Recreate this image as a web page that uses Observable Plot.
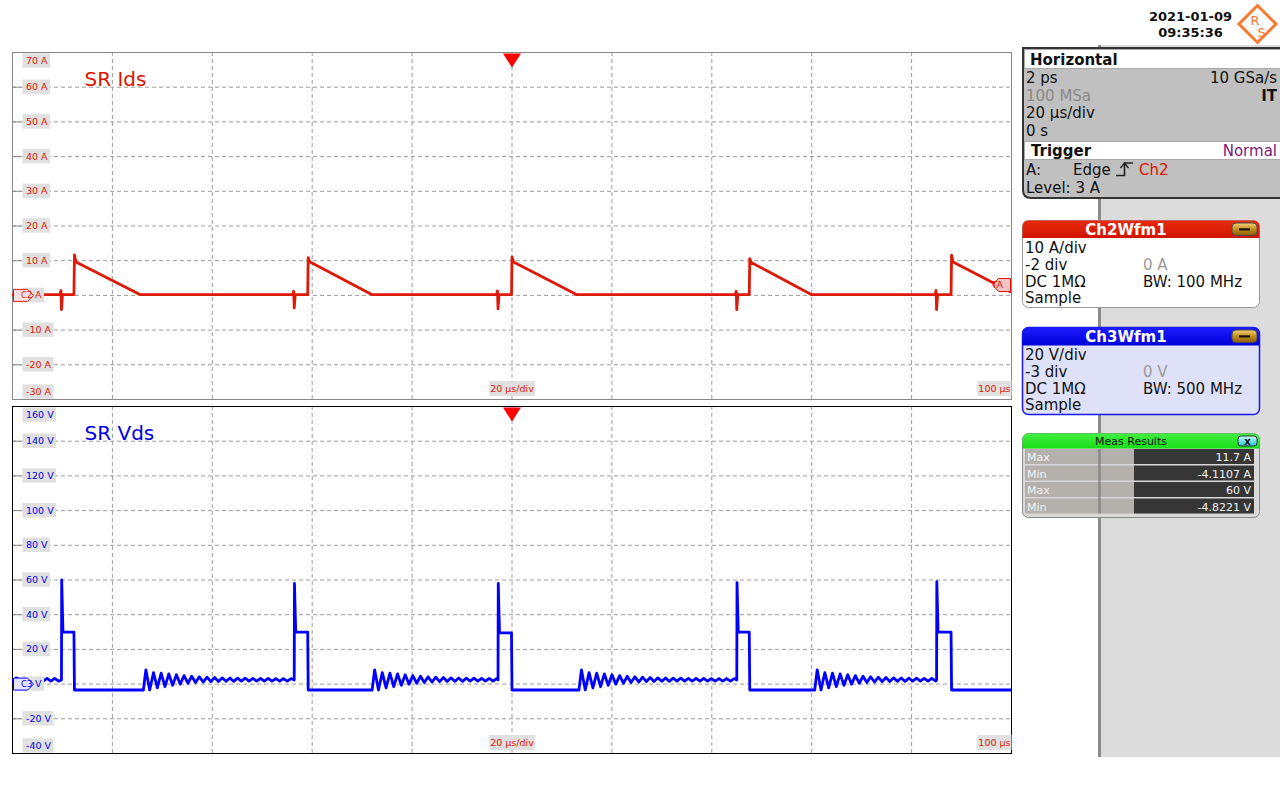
<!DOCTYPE html>
<html><head><meta charset="utf-8">
<script src="https://cdn.jsdelivr.net/npm/d3@7"></script>
<script src="https://cdn.jsdelivr.net/npm/@observablehq/plot@0.6"></script>
<style>
html,body{margin:0;padding:0;background:#fff;}
#root{position:relative;width:1280px;height:800px;overflow:hidden;font-family:"DejaVu Sans";}
#root svg{position:absolute;left:0;}
</style></head><body><div id="root">
<svg id="side" width="1280" height="800" style="top:0" font-family="DejaVu Sans">
<defs>
 <linearGradient id="gold" x1="0" y1="0" x2="0" y2="1"><stop offset="0" stop-color="#f3d27a"/><stop offset="0.5" stop-color="#c48d1c"/><stop offset="1" stop-color="#8a5c0a"/></linearGradient>
 <linearGradient id="cyan" x1="0" y1="0" x2="0" y2="1"><stop offset="0" stop-color="#c8ffff"/><stop offset="1" stop-color="#1cc4d8"/></linearGradient>
 <linearGradient id="redh" x1="0" y1="0" x2="0" y2="1"><stop offset="0" stop-color="#e82a0c"/><stop offset="1" stop-color="#d01400"/></linearGradient>
 <linearGradient id="blueh" x1="0" y1="0" x2="0" y2="1"><stop offset="0" stop-color="#1c1cff"/><stop offset="1" stop-color="#0000d8"/></linearGradient>
 <linearGradient id="greenh" x1="0" y1="0" x2="0" y2="1"><stop offset="0" stop-color="#40f040"/><stop offset="1" stop-color="#18dc18"/></linearGradient>
</defs>
<rect x="1100" y="45" width="180" height="712" fill="#dcdcdc"/>
<rect x="1098" y="45" width="3" height="712" fill="#8c8c8c"/>
<text x="1190.5" y="21" text-anchor="middle" font-size="13" font-weight="bold" fill="#111">2021-01-09</text>
<text x="1190.5" y="37" text-anchor="middle" font-size="13" font-weight="bold" fill="#111">09:35:36</text>
<g transform="translate(1257.5,24)">
 <path d="M0,-18.5 L18.5,0 L0,18.5 L-18.5,0Z" fill="#fff" stroke="#f57a30" stroke-width="3"/>
 <text x="-2.5" y="1" font-size="13" fill="#f57a30" text-anchor="middle">R</text>
 <text x="4" y="13" font-size="13" fill="#f57a30" text-anchor="middle">S</text>
</g>
<g font-size="15" fill="#111">
 <path d="M1284,48 H1023 V190 Q1023,198 1031,198 H1284" fill="#c0c0c0" stroke="#333" stroke-width="2"/>
 <rect x="1024.5" y="49.5" width="260" height="19" fill="#fff" stroke="#aaa"/>
 <text x="1030" y="65" font-weight="bold">Horizontal</text>
 <text x="1026" y="83">2 ps</text>
 <text x="1277" y="83" text-anchor="end">10 GSa/s</text>
 <text x="1026" y="100.5" fill="#8a8a8a">100 MSa</text>
 <text x="1277" y="100.5" text-anchor="end" font-weight="bold">IT</text>
 <text x="1026" y="118">20 µs/div</text>
 <text x="1026" y="136">0 s</text>
 <rect x="1024.5" y="141.5" width="260" height="18" fill="#fff" stroke="#aaa"/>
 <text x="1031" y="156" font-weight="bold">Trigger</text>
 <text x="1277" y="156" text-anchor="end" fill="#7a1a7a">Normal</text>
 <text x="1026" y="175">A:</text>
 <text x="1073" y="175">Edge</text>
 <path d="M1116,175.5 H1124.5 V163 H1133" fill="none" stroke="#222" stroke-width="1.6"/>
 <path d="M1120.5,168 L1124.5,163 L1128.5,168" fill="none" stroke="#222" stroke-width="1.4"/>
 <text x="1139" y="175" fill="#e01400">Ch2</text>
 <text x="1026" y="192.5">Level: 3 A</text>
</g>
<g font-size="15" fill="#111">
 <rect x="1022.5" y="220.5" width="237" height="87" rx="6" fill="#fff" stroke="#9a9a9a"/>
 <path d="M1022.5,238 V226.5 Q1022.5,220.5 1028.5,220.5 H1253.5 Q1259.5,220.5 1259.5,226.5 V238 Z" fill="url(#redh)"/>
 <text x="1126" y="234.5" text-anchor="middle" font-weight="bold" fill="#fff">Ch2Wfm1</text>
 <rect x="1232" y="223" width="25" height="12.5" rx="4" fill="url(#gold)" stroke="#4a4a4a"/>
 <rect x="1239" y="228.3" width="11" height="2.2" fill="#111"/>
 <text x="1025" y="252.5">10 A/div</text>
 <text x="1025" y="269.5">-2 div</text><text x="1143" y="269.5" fill="#9a9a9a">0 A</text>
 <text x="1025" y="286.5">DC 1MΩ</text><text x="1143" y="286.5">BW: 100 MHz</text>
 <text x="1025" y="303">Sample</text>
</g>
<g font-size="15" fill="#111">
 <rect x="1022.5" y="327.5" width="237" height="87" rx="6" fill="#dfe1f8" stroke="#1818e8" stroke-width="1.5"/>
 <path d="M1022.5,345.5 V333.5 Q1022.5,327.5 1028.5,327.5 H1253.5 Q1259.5,327.5 1259.5,333.5 V345.5 Z" fill="url(#blueh)"/>
 <text x="1126" y="341.5" text-anchor="middle" font-weight="bold" fill="#fff">Ch3Wfm1</text>
 <rect x="1232" y="330" width="25" height="12.5" rx="4" fill="url(#gold)" stroke="#4a4a4a"/>
 <rect x="1239" y="335.3" width="11" height="2.2" fill="#111"/>
 <text x="1025" y="359.5">20 V/div</text>
 <text x="1025" y="376.5">-3 div</text><text x="1143" y="376.5" fill="#9a9a9a">0 V</text>
 <text x="1025" y="393.5">DC 1MΩ</text><text x="1143" y="393.5">BW: 500 MHz</text>
 <text x="1025" y="410">Sample</text>
</g>
<g font-size="11">
 <rect x="1022.5" y="433.5" width="237" height="84" rx="6" fill="#d9d9d9" stroke="#8a8a8a"/>
 <path d="M1022.5,448.5 V439.5 Q1022.5,433.5 1028.5,433.5 H1253.5 Q1259.5,433.5 1259.5,439.5 V448.5 Z" fill="url(#greenh)"/>
 <text x="1131" y="445" text-anchor="middle" fill="#111">Meas Results</text>
 <rect x="1238" y="436" width="19" height="10" rx="3" fill="url(#cyan)" stroke="#333"/>
 <text x="1247.5" y="444.5" font-size="10" font-weight="bold" text-anchor="middle" fill="#111">x</text>
 <rect x="1025" y="449" width="109" height="15" fill="#b4b0ac"/><rect x="1134" y="449" width="120" height="15" fill="#363636"/>
 <rect x="1025" y="465.5" width="109" height="15" fill="#b4b0ac"/><rect x="1134" y="465.5" width="120" height="15" fill="#363636"/>
 <rect x="1025" y="482" width="109" height="15" fill="#b4b0ac"/><rect x="1134" y="482" width="120" height="15" fill="#363636"/>
 <rect x="1025" y="498.5" width="109" height="15" fill="#b4b0ac"/><rect x="1134" y="498.5" width="120" height="15" fill="#363636"/>
 <rect x="1098" y="449" width="3" height="64.5" fill="#6e6e6e" opacity="0.5"/>
 <g fill="#f2f2f2">
  <text x="1027" y="461">Max</text><text x="1251" y="461" text-anchor="end">11.7 A</text>
  <text x="1027" y="477.5">Min</text><text x="1251" y="477.5" text-anchor="end">-4.1107 A</text>
  <text x="1027" y="494">Max</text><text x="1251" y="494" text-anchor="end">60 V</text>
  <text x="1027" y="510.5">Min</text><text x="1251" y="510.5" text-anchor="end">-4.8221 V</text>
 </g>
</g>
</svg>
</div>
<script>
const timeTicks = [-80, -60, -40, -20, 0, 20, 40, 60, 80];          // µs gridlines
const idsTicks = [70, 60, 50, 40, 30, 20, 10, 0, -10, -20, -30];    // A
const vdsTicks = [160, 140, 120, 100, 80, 60, 40, 20, 0, -20, -40]; // V
const timebaseLabel = ["20 µs/div"];
const timeEndLabel = ["100 µs"];
const triggerTime = [0];
const triggerLevel = [3];

// switching events (µs)
const spikeTimes = [-90.2, -43.6, -2.8, 45.0, 85.0];  // Vds turn-off spike
const riseTimes  = [-87.6, -40.8, 0.0, 47.6, 88.0];   // Ids conduction start / Vds drop
const zeroTimes  = [-74.4, -28.0, 13.0, 60.0];        // Ids back to zero
const ringTimes  = [-73.8, -28.0, 13.4, 60.6];        // Vds ringing start
const prevRingStart = -115;

// Ids levels (A)
const idsBase = 0.2;
const idsPeak  = [11.7, 10.9, 11.1, 10.6, 11.6];
const idsStart = [9.6, 9.7, 9.6, 9.5, 9.6];
const idsPre   = [1.4, 1.2, 1.3, 1.2, 1.4];
const idsDip   = [-4.1, -3.6, -3.9, -4.1, -4.1];
const idsEnd   = 0.9;

// Vds levels (V)
const vdsSpike   = [60, 58, 58, 58.5, 59];
const vdsPlateau = [30, 30, 29.5, 30, 30];
const vdsLow = -3.4;
const vdsSettle = 2.4;
const ringPeriod = 1.53, ringLead = 0.5;
const ringPeaks   = [8.2, 6.6, 6.3, 5.9, 5.4, 4.9, 4.5, 4.2, 4.0, 3.8, 3.6, 3.5, 3.4, 3.4, 3.3, 3.3, 3.3, 3.2, 3.2, 3.2, 3.2, 3.2];
const ringTroughs = [-3.4, -2.2, -1.5, -0.7, 0.0, 0.5, 0.9, 1.2, 1.4, 1.5, 1.6, 1.6, 1.7, 1.7, 1.7, 1.7, 1.7, 1.7, 1.7, 1.7, 1.7, 1.7];

// ---------- build tables ----------
const idsPts = [{t: -100, v: idsBase}];
spikeTimes.forEach((s, i) => {
  const r = riseTimes[i];
  idsPts.push({t: s - 0.3, v: idsBase}, {t: s - 0.1, v: idsPre[i]}, {t: s, v: idsDip[i]}, {t: s + 0.2, v: idsBase});
  idsPts.push({t: r - 0.1, v: idsBase}, {t: r, v: idsPeak[i]}, {t: r + 0.3, v: idsStart[i]});
  if (i < zeroTimes.length) idsPts.push({t: zeroTimes[i], v: idsBase});
  else idsPts.push({t: 100, v: idsEnd});
});

function ringSegment(start, stop) {
  const pts = [];
  for (let k = 0; k < ringPeaks.length; k++) {
    const tp = start + ringLead + k * ringPeriod, tt = tp + ringPeriod / 2;
    if (tp < stop) pts.push({t: tp, v: ringPeaks[k]});
    if (tt < stop) pts.push({t: tt, v: ringTroughs[k]});
  }
  pts.push({t: stop, v: vdsSettle});
  return pts;
}
const vdsPts = [{t: -100, v: vdsSettle}, ...ringSegment(prevRingStart, spikeTimes[0]).filter(p => p.t > -100)];
spikeTimes.forEach((s, i) => {
  const r = riseTimes[i];
  vdsPts.push({t: s, v: vdsSettle}, {t: s + 0.05, v: vdsSpike[i]}, {t: s + 0.3, v: vdsPlateau[i]}, {t: r - 0.1, v: vdsPlateau[i]}, {t: r, v: vdsLow});
  if (i < ringTimes.length) {
    vdsPts.push({t: ringTimes[i], v: vdsLow}, ...ringSegment(ringTimes[i], spikeTimes[i + 1]));
  } else vdsPts.push({t: 100, v: vdsLow});
});

// ---------- shapes ----------
const tagRight = {draw(c) { c.moveTo(1, -6); c.lineTo(15, -6); c.lineTo(21, 0); c.lineTo(15, 6); c.lineTo(1, 6); c.closePath(); }};
const tagLeft = {draw(c) { c.moveTo(-1, -6.5); c.lineTo(-13, -6.5); c.lineTo(-19, 0); c.lineTo(-13, 6.5); c.lineTo(-1, 6.5); c.closePath(); }};
const trigDown = {draw(c) { c.moveTo(-9, 1); c.lineTo(9, 1); c.lineTo(0, 15); c.closePath(); }};

function panel({ticks, unit, pts, color, textColor, frameColor, title, chan, top, height, marginTop, marginBottom, showTA}) {
  const inner = ticks.slice(1, -1);
  const marks = [
    Plot.ruleX(timeTicks, {x: d => d, stroke: "#9c9c9c", strokeDasharray: "4,3"}),
    Plot.ruleY(inner, {y: d => d, stroke: "#9c9c9c", strokeDasharray: "4,3"}),
    Plot.ruleY(inner, {y: d => d, x1: -100, x2: -98.2, stroke: "#888"}),
    Plot.frame({stroke: frameColor}),
    Plot.line(pts, {x: "t", y: "v", stroke: color, strokeWidth: 2.8, clip: true}),
    Plot.text(inner, {y: d => d, text: d => `${d} ${unit}`, frameAnchor: "left", textAnchor: "start", dx: 13.5, fill: textColor, fontSize: 9.5}),
    Plot.text(ticks.slice(0, 1), {y: d => d, text: d => `${d} ${unit}`, frameAnchor: "left", textAnchor: "start", dx: 13.5, dy: 8.5, fill: textColor, fontSize: 9.5}),
    Plot.text(ticks.slice(-1), {y: d => d, text: d => `${d} ${unit}`, frameAnchor: "left", textAnchor: "start", dx: 13.5, dy: -7.5, fill: textColor, fontSize: 9.5}),
    Plot.text(timebaseLabel, {x: () => 0, text: d => d, frameAnchor: "bottom", lineAnchor: "middle", dy: -10.5, fill: "#e01400", fontSize: 9.5}),
    Plot.text(timeEndLabel, {text: d => d, frameAnchor: "bottom-right", lineAnchor: "middle", textAnchor: "end", dx: -1, dy: -10.5, fill: "#e01400", fontSize: 9.5}),
    Plot.dot([0], {y: d => d, frameAnchor: "left", symbol: tagRight, r: 5, fill: color === "#0000ff" ? "#e4e4ff" : "#fbe2e2", stroke: color, strokeWidth: 1}),
    Plot.text([0], {y: d => d, text: () => chan, frameAnchor: "left", dx: 8.5, fill: color, fontSize: 8.5}),
    Plot.dot(triggerTime, {x: d => d, frameAnchor: "top", symbol: trigDown, r: 5, fill: "#ff0000", stroke: "none"}),
    Plot.text([title], {text: d => d, frameAnchor: "top-left", lineAnchor: "middle", textAnchor: "start", dx: 72, dy: 26.6, fill: textColor, fontSize: 20})
  ];
  if (showTA) {
    marks.push(Plot.dot(triggerLevel, {y: d => d, frameAnchor: "right", symbol: tagLeft, r: 5, fill: "#f3c4c4", stroke: "#e01400", strokeWidth: 1}));
    marks.push(Plot.text(triggerLevel, {y: d => d, text: () => "TA", frameAnchor: "right", dx: -8.5, fill: "#e01400", fontSize: 9.5}));
  }
  const svg = Plot.plot({
    width: 1020, height, marginLeft: 12, marginRight: 9, marginTop, marginBottom,
    style: {background: "transparent", fontFamily: "DejaVu Sans", overflow: "visible"},
    x: {domain: [-100, 100], axis: null},
    y: {domain: [ticks[ticks.length - 1], ticks[0]], axis: null},
    marks
  });
  svg.style.top = top + "px";
  document.getElementById("root").appendChild(svg);
  // grey boxes behind the on-screen labels
  const NS = "http://www.w3.org/2000/svg";
  for (const t of Array.from(svg.querySelectorAll("text"))) {
    const s = t.textContent;
    let padL, padR, h;
    if (/^-?\d+ [AV]$/.test(s)) { padL = 3.5; padR = 2; h = 14.4; }
    else if (/µs/.test(s)) { padL = 1; padR = 1; h = 15; }
    else continue;
    const b = t.getBBox();
    const r = document.createElementNS(NS, "rect");
    const cy = b.y + b.height / 2;
    r.setAttribute("x", b.x - padL); r.setAttribute("width", b.width + padL + padR);
    r.setAttribute("y", cy - h / 2); r.setAttribute("height", h);
    r.setAttribute("fill", "#e0e0e0");
    if (t.getAttribute("transform")) r.setAttribute("transform", t.getAttribute("transform"));
    t.parentNode.insertBefore(r, t);
  }
}

panel({ticks: idsTicks, unit: "A", pts: idsPts, color: "#dd1a08", textColor: "#e01400", frameColor: "#888",
  title: "SR Ids", chan: "C2", top: 0, height: 403, marginTop: 52, marginBottom: 4, showTA: true});
panel({ticks: vdsTicks, unit: "V", pts: vdsPts, color: "#0000ff", textColor: "#0000e8", frameColor: "#000",
  title: "SR Vds", chan: "C3", top: 400, height: 357, marginTop: 6, marginBottom: 4, showTA: false});
</script></body></html>
